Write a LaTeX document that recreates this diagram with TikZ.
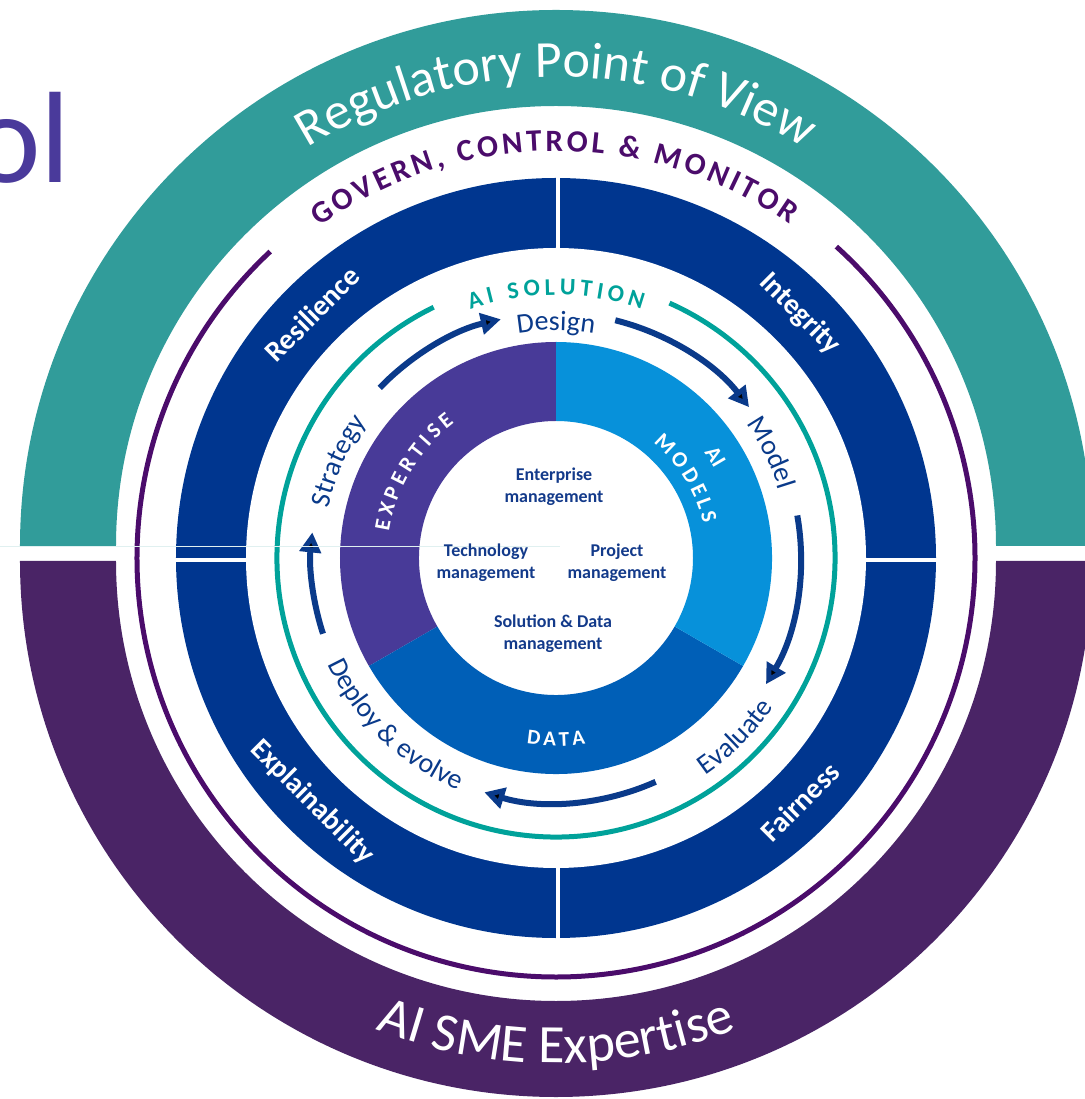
\documentclass[tikz,border=0pt]{standalone}
\usepackage{fontspec}
\setmainfont{Carlito}
\usetikzlibrary{arrows.meta,decorations.text}
\definecolor{regteal}{HTML}{319C9A}
\definecolor{smepurple}{HTML}{4A2466}
\definecolor{govpurple}{HTML}{4B0C6B}
\definecolor{ringblue}{HTML}{00368F}
\definecolor{solteal}{HTML}{00A29A}
\definecolor{expviolet}{HTML}{483A98}
\definecolor{modelblue}{HTML}{0791DA}
\definecolor{datablue}{HTML}{005FB7}
\definecolor{cyclenavy}{HTML}{0A3A8A}
\definecolor{corenavy}{HTML}{133A8A}
\definecolor{olpurple}{HTML}{4A3A9B}
\begin{document}
\begin{tikzpicture}[x=1pt,y=1pt]
    \tikzset{
        ring label/.style={text=white, font=\fontsize{29}{29}\selectfont\bfseries, inner sep=0pt},
        core label/.style={text=corenavy, font=\fontsize{18}{22}\selectfont\bfseries, align=center, inner sep=0pt},
        cycle arrow/.style={draw=cyclenavy, line width=6pt, -{Triangle[length=20pt,width=21pt]}},
        arc text/.style 2 args={decorate, decoration={text along path, text align=center, text color=#1, text={#2}}},
        spaced text/.style 2 args={decorate, decoration={text along path, text align=fit to path, text color=#1, text={#2}}},
    }
    \useasboundingbox (-556,-541) rectangle (528,558);
    % cut-off title word on the left
    \node[text=olpurple, font=\fontsize{130}{130}\selectfont, anchor=base east, inner sep=0pt] (ol) at (-485,375) {ol};
    % outer halves
    \begin{scope}[yshift=12]
        \fill[regteal] (0:536) arc[start angle=0, end angle=180, radius=536] -- (180:440) arc[start angle=180, end angle=0, radius=440] -- cycle;
        \path[arc text={white}{|\fontsize{52}{52}\selectfont|Regulatory Point of View}] (155:469) arc[start angle=155, end angle=25, radius=469];
    \end{scope}
    \begin{scope}[yshift=-3]
        \fill[smepurple] (180:536) arc[start angle=180, end angle=360, radius=536] -- (0:440) arc[start angle=360, end angle=180, radius=440] -- cycle;
        \path[arc text={white}{|\fontsize{54}{54}\selectfont|AI SME Expertise}] (205:502) arc[start angle=205, end angle=335, radius=502];
    \end{scope}
    \draw[govpurple, line width=5pt] (133:419) arc[start angle=133, end angle=408, radius=419];
    \path[spaced text={govpurple}{|\bfseries\fontsize{31}{31}\selectfont|GOVERN, CONTROL {\&} MONITOR}] (125.5:407) arc[start angle=125.5, end angle=55, radius=407];
    % blue ring, four quarters
    \fill[ringblue] (0,0) circle[radius=380];
    \fill[white] (0,0) circle[radius=310];
    \draw[white, line width=4pt] (2,300) -- (2,390);
    \draw[white, line width=4pt] (2,-300) -- (2,-390);
    \draw[white, line width=4pt] (-390,-2) -- (-300,-2);
    \draw[white, line width=4pt] (300,-2) -- (390,-2);
    \node[ring label, rotate=45] (resilience) at (135:345) {Resilience};
    \node[ring label, rotate=-45] (integrity) at (45:345) {Integrity};
    \node[ring label, rotate=-45] (explainability) at (225:345) {Explainability};
    \node[ring label, rotate=45] (fairness) at (315:345) {Fairness};
    % AI solution cycle
    \draw[solteal, line width=5pt] (116:279) arc[start angle=116, end angle=426, radius=279];
    \path[spaced text={solteal}{|\bfseries\fontsize{24}{24}\selectfont|AI SOLUTION}] (109:263) arc[start angle=109, end angle=71, radius=263];
    \path[arc text={cyclenavy}{|\fontsize{28}{28}\selectfont|Design}] (120:228) arc[start angle=120, end angle=60, radius=228];
    \path[arc text={cyclenavy}{|\fontsize{28}{28}\selectfont|Model}] (56:233) arc[start angle=56, end angle=-4, radius=233];
    \path[arc text={cyclenavy}{|\fontsize{28}{28}\selectfont|Evaluate}] (-75:264) arc[start angle=-75, end angle=-15, radius=264];
    \path[arc text={cyclenavy}{|\fontsize{28}{28}\selectfont|Deploy {\&} evolve}] (190:252) arc[start angle=190, end angle=262, radius=252];
    \path[arc text={cyclenavy}{|\fontsize{28}{28}\selectfont|Strategy}] (186:233) arc[start angle=186, end angle=126, radius=233];
    \foreach \s/\e in {136/103, 76/38, 10/-31, -66/-107, 198/174}
        \draw[cycle arrow] (\s:245) arc[start angle=\s, end angle=\e, radius=245];
    % inner pie
    \foreach \a/\b/\c in {90/210/expviolet, 210/330/datablue, -30/90/modelblue}
        \fill[\c] (\a:216) arc[start angle=\a, end angle=\b, radius=216] -- (\b:137) arc[start angle=\b, end angle=\a, radius=137] -- cycle;
    \path[spaced text={white}{|\bfseries\fontsize{22}{22}\selectfont|EXPERTISE}] (171:169) arc[start angle=171, end angle=127, radius=169];
    \path[arc text={white}{|\bfseries\fontsize{22}{22}\selectfont|AI}] (60:182) arc[start angle=60, end angle=5, radius=182];
    \path[spaced text={white}{|\bfseries\fontsize{22}{22}\selectfont|MODELS}] (50:151) arc[start angle=50, end angle=13, radius=151];
    \path[spaced text={white}{|\bfseries\fontsize{21}{21}\selectfont|DATA}] (261:188) arc[start angle=261, end angle=279, radius=188];
    % faint guide line left in the source
    \draw[regteal!15, line width=0.5pt] (-556,12) -- (4,12);
    \node[core label] (enterprise) at (-2,71) {Enterprise\\management};
    \node[core label] (technology) at (-70,-5) {Technology\\management};
    \node[core label] (project) at (61,-5) {Project\\management};
    \node[core label] (solution) at (-3,-76) {Solution \& Data\\management};
\end{tikzpicture}
\end{document}
